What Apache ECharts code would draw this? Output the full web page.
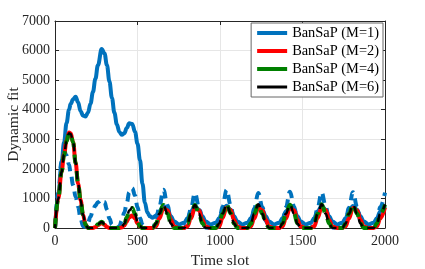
<!DOCTYPE html>
<html>
<head>
<meta charset="utf-8">
<script src="https://cdn.jsdelivr.net/npm/echarts@6/dist/echarts.min.js"></script>
<style>
html,body{margin:0;padding:0;background:#fff;}
#chart{width:425px;height:269px;}
</style>
</head>
<body>
<div id="chart"></div>
<script>
// Time slots (x values shared by all series)
var timeSlots = [0,20,40,55,70,85,95,110,125,140,155,170,185,200,215,230,245,260,283,300,315,330,345,360,375,390,405,420,435,450,468,485,500,515,530,545,560,575,
592,612,632,657,682,702,722,752,
783,803,823,848,873,893,913,944,
975,995,1015,1040,1065,1085,1105,1136,
1167,1187,1207,1232,1257,1277,1297,1328,
1359,1379,1399,1424,1449,1469,1489,1520,
1551,1571,1591,1616,1641,1661,1681,1711,
1741,1761,1781,1806,1831,1851,1871,1901,
1931,1951,1971,2000];

// BanSaP (M=1), solid blue
var fitM1 = [0,1100,2200,2900,3550,4000,4200,4350,4440,4250,3950,3800,3770,3900,4200,4600,5050,5500,6050,5900,5500,4950,4400,3900,3500,3250,3150,3200,3380,3540,3520,3250,2850,2300,1500,850,520,400,
350,420,570,740,620,400,220,120,
180,330,560,730,620,400,220,120,
180,330,560,750,620,400,220,120,
180,330,560,740,620,400,220,120,
180,330,560,740,620,400,220,120,
180,330,560,740,620,400,220,120,
180,330,560,740,620,400,220,120,
180,330,560,740];

// dashed blue companion curve (not in legend)
var fitM1Dashed = [0,1200,2250,2600,2450,2150,1850,1450,1050,720,320,60,40,180,380,600,760,870,960,880,620,320,110,20,0,60,250,520,850,1200,1350,1100,700,340,110,20,0,0,
0,200,720,1290,760,260,20,0,
0,180,650,1180,700,240,20,0,
0,200,720,1290,760,260,20,0,
0,180,660,1180,700,240,20,0,
0,190,690,1230,730,250,20,0,
0,190,680,1200,720,250,20,0,
0,190,680,1210,720,250,20,0,
0,200,700,1200];

// BanSaP (M=2), red
var fitM2 = [0,1000,1900,2500,2950,3230,3200,2900,2200,1500,950,450,120,0,0,0,30,100,170,110,30,0,0,0,0,0,20,90,220,360,420,320,160,50,0,0,0,0,
0,60,320,660,600,280,50,0,
0,60,320,680,600,280,50,0,
0,60,330,690,610,280,50,0,
0,60,320,680,600,280,50,0,
0,60,320,680,600,280,50,0,
0,60,330,690,610,280,50,0,
0,60,320,680,600,280,50,0,
0,60,320,690];

// BanSaP (M=4), green
var fitM4 = [0,1000,1900,2480,2930,3200,3180,2900,2200,1500,950,450,120,0,0,0,40,130,210,140,40,0,0,0,0,0,30,150,360,580,680,480,220,60,0,0,0,0,
0,150,480,780,480,150,0,0,
0,150,470,780,480,150,0,0,
0,150,480,800,490,150,0,0,
0,150,480,800,480,150,0,0,
0,150,480,790,480,150,0,0,
0,150,480,800,480,150,0,0,
0,150,480,790,480,150,0,0,
0,150,480,790];

// BanSaP (M=6), black
var fitM6 = [0,1000,1900,2480,2930,3200,3180,2900,2200,1500,950,450,120,0,0,0,40,130,200,140,40,0,0,0,0,0,30,150,360,590,690,480,220,60,0,0,0,0,
0,150,480,790,480,150,0,0,
0,150,470,780,480,150,0,0,
0,150,480,800,490,150,0,0,
0,150,480,800,480,150,0,0,
0,150,480,790,480,150,0,0,
0,150,480,800,480,150,0,0,
0,150,480,790,480,150,0,0,
0,150,480,800];

var legendNames = ['BanSaP (M=1)','BanSaP (M=2)','BanSaP (M=4)','BanSaP (M=6)'];
var xTicks = {min:0, max:2000, interval:500};
var yTicks = {min:0, max:7000, interval:1000};

function pairs(v){ return timeSlots.map(function(t,i){ return [t, v[i]]; }); }

var FONT = "'Liberation Serif','Times New Roman',serif";
var axisCol = '#262626';
var thickIcon = 'path://M0,0L30,0L30,4L0,4Z';
var thinIcon = 'path://M0,0L30,0L30,3L0,3Z';
function plain(v){ return String(v); }

var chart = echarts.init(document.getElementById('chart'), null, {renderer:'canvas'});
var option = {
  animation:false,
  grid:{left:55, right:40, top:21, bottom:41, show:false, containLabel:false, outerBoundsMode:'none'},
  legend:{
    right:42, top:23, orient:'vertical',
    backgroundColor:'#fff', borderColor:'#666', borderWidth:1, borderRadius:0,
    padding:[3,4,3,6], itemGap:4, itemWidth:30, itemHeight:14,
    textStyle:{fontFamily:FONT, fontSize:14.4, color:'#000'},
    data:[
      {name:legendNames[0], icon:thickIcon},
      {name:legendNames[1], icon:thickIcon},
      {name:legendNames[2], icon:thickIcon},
      {name:legendNames[3], icon:thinIcon}
    ]
  },
  xAxis:[{
    type:'value', min:xTicks.min, max:xTicks.max, interval:xTicks.interval, position:'bottom',
    name:'Time slot', nameLocation:'middle', nameGap:25, nameMoveOverlap:false,
    nameTextStyle:{fontFamily:FONT, fontSize:15.5, color:axisCol},
    axisLine:{show:true, onZero:false, lineStyle:{color:axisCol, width:1}},
    axisTick:{show:true, inside:true, length:4, lineStyle:{color:axisCol}},
    axisLabel:{fontFamily:FONT, fontSize:14, color:axisCol, margin:6, formatter:plain},
    splitLine:{show:true, lineStyle:{color:'#e6e6e6', width:1}}
  },{
    type:'value', min:xTicks.min, max:xTicks.max, interval:xTicks.interval, position:'top',
    axisLine:{show:true, onZero:false, lineStyle:{color:axisCol, width:1}},
    axisTick:{show:true, inside:true, length:4, lineStyle:{color:axisCol}},
    axisLabel:{show:false}, splitLine:{show:false}
  }],
  yAxis:[{
    type:'value', min:yTicks.min, max:yTicks.max, interval:yTicks.interval, position:'left',
    name:'Dynamic fit', nameLocation:'middle', nameGap:33, nameMoveOverlap:false,
    nameTextStyle:{fontFamily:FONT, fontSize:15.5, color:axisCol},
    axisLine:{show:true, onZero:false, lineStyle:{color:axisCol, width:1}},
    axisTick:{show:true, inside:true, length:4, lineStyle:{color:axisCol}},
    axisLabel:{fontFamily:FONT, fontSize:14, color:axisCol, margin:5, formatter:plain},
    splitLine:{show:true, lineStyle:{color:'#e6e6e6', width:1}}
  },{
    type:'value', min:yTicks.min, max:yTicks.max, interval:yTicks.interval, position:'right',
    axisLine:{show:true, onZero:false, lineStyle:{color:axisCol, width:1}},
    axisTick:{show:true, inside:true, length:4, lineStyle:{color:axisCol}},
    axisLabel:{show:false}, splitLine:{show:false}
  }],
  series:[
    {name:legendNames[0], type:'line', data:pairs(fitM1), showSymbol:false, symbol:'none',
     smooth:0.4, smoothMonotone:'x', lineStyle:{color:'#0072BD', width:4}, itemStyle:{color:'#0072BD'}, z:2},
    {name:'dashed', type:'line', data:pairs(fitM1Dashed), showSymbol:false, symbol:'none',
     smooth:0.4, smoothMonotone:'x', lineStyle:{color:'#0072BD', width:4, type:[9,6]}, itemStyle:{color:'#0072BD'}, z:3},
    {name:legendNames[1], type:'line', data:pairs(fitM2), showSymbol:false, symbol:'none',
     smooth:0.4, smoothMonotone:'x', lineStyle:{color:'#FF0000', width:4}, itemStyle:{color:'#FF0000'}, z:4},
    {name:legendNames[2], type:'line', data:pairs(fitM4), showSymbol:false, symbol:'none',
     smooth:0.4, smoothMonotone:'x', lineStyle:{color:'#008000', width:4, type:[10,7]}, itemStyle:{color:'#008000'}, z:5},
    {name:legendNames[3], type:'line', data:pairs(fitM6), showSymbol:false, symbol:'none',
     smooth:0.4, smoothMonotone:'x', lineStyle:{color:'#000000', width:2.5, type:[8,6], dashOffset:4}, itemStyle:{color:'#000'}, z:6}
  ]
};
chart.setOption(option);
</script>
</body>
</html>
